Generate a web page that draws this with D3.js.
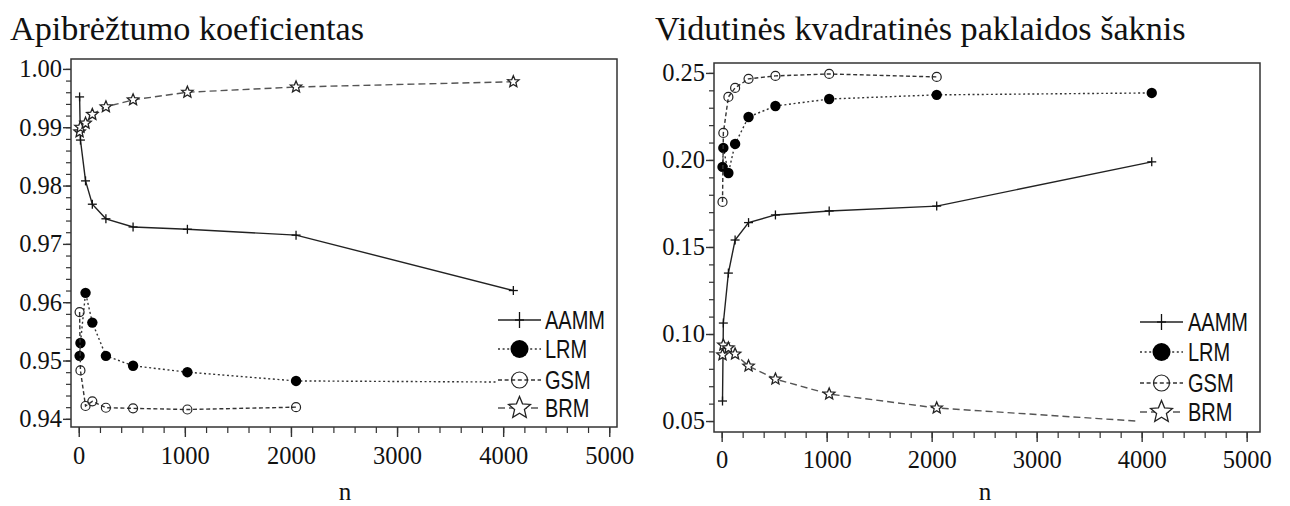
<!DOCTYPE html>
<html>
<head>
<meta charset="utf-8">
<script src="https://cdn.jsdelivr.net/npm/d3@7/dist/d3.min.js"></script>
<style>
  html, body { margin: 0; padding: 0; background: #fff; }
  svg { display: block; }
</style>
</head>
<body>
<div id="chart"></div>
<script>
// 样本量 n
const N = [8, 16, 64, 128, 256, 512, 1024, 2048, 4096];
const SERIES = ['AAMM', 'LRM', 'GSM', 'BRM'];

// 左图：Apibrėžtumo koeficientas
const r2AAMM = [0.9952, 0.9878, 0.9808, 0.9768, 0.9743, 0.9729, 0.9725, 0.9715, 0.9620];
const r2LRM  = [0.9508, 0.9530, 0.9616, 0.9565, 0.9508, 0.9491, 0.9480, 0.9465, 0.9463];
const r2GSM  = [0.9583, 0.9483, 0.9422, 0.9430, 0.9419, 0.9418, 0.9416, 0.9420];
const r2BRM  = [0.9892, 0.9900, 0.9907, 0.9922, 0.9935, 0.9947, 0.9960, 0.9969, 0.9978];

// 右图：Vidutinės kvadratinės paklaidos šaknis
const rmseAAMM = [0.0615, 0.1063, 0.1350, 0.1540, 0.1640, 0.1684, 0.1707, 0.1735, 0.1989];
const rmseLRM  = [0.1960, 0.2069, 0.1925, 0.2092, 0.2247, 0.2310, 0.2350, 0.2374, 0.2385];
const rmseGSM  = [0.1759, 0.2155, 0.2362, 0.2414, 0.2466, 0.2483, 0.2494, 0.2477];
const rmseBRM  = [0.0880, 0.0937, 0.0920, 0.0885, 0.0816, 0.0741, 0.0655, 0.0575, 0.0494];

// 刻度
const X_TICKS = [0, 1000, 2000, 3000, 4000, 5000];
const LEFT_Y_TICKS = [0.94, 0.95, 0.96, 0.97, 0.98, 0.99, 1.00];
const RIGHT_Y_TICKS = [0.05, 0.10, 0.15, 0.20, 0.25];

const W = 1290, H = 506;
const SERIF = '"Liberation Serif", "Times New Roman", serif';
const SANS = '"Liberation Sans", Arial, sans-serif';

// 线型
const STYLE = {
  AAMM: { dash: null,    color: '#222', marker: 'plus' },
  LRM:  { dash: '2,2.6', color: '#333', marker: 'dot' },
  GSM:  { dash: '4,2.6', color: '#333', marker: 'ring' },
  BRM:  { dash: '7,4',   color: '#555', marker: 'star' }
};

const Chart = {
  svg: null,

  init() {
    this.svg = d3.select('#chart').append('svg')
      .attr('width', W).attr('height', H)
      .attr('viewBox', `0 0 ${W} ${H}`);

    this.drawPanel({
      title: 'Apibrėžtumo koeficientas', titleX: 10,
      frame: { x0: 71, x1: 617, y0: 59, y1: 427 },
      xDomain: [-73, 5073], yDomain: [0.9386, 1.0017],
      yTicks: LEFT_Y_TICKS, yMinor: d3.range(469, 501).map(i => i * 0.002),
      yFormat: d3.format('.2f'), xPad: 10,
      data: { AAMM: r2AAMM, LRM: r2LRM, GSM: r2GSM, BRM: r2BRM },
      legend: { x: 496, y: 303, w: 119, h: 122, rows: [320, 349, 380, 408], sx: 498, ex: 541, lx: 545 },
      nX: 345
    });

    this.drawPanel({
      title: 'Vidutinės kvadratinės paklaidos šaknis', titleX: 655,
      frame: { x0: 714, x1: 1260, y0: 63, y1: 432 },
      xDomain: [-73, 5127], yDomain: [0.0437, 0.2557],
      yTicks: RIGHT_Y_TICKS, yMinor: d3.range(5, 26).map(i => i * 0.01),
      yFormat: d3.format('.2f'), xPad: 9,
      data: { AAMM: rmseAAMM, LRM: rmseLRM, GSM: rmseGSM, BRM: rmseBRM },
      legend: { x: 1136, y: 305, w: 122, h: 125, rows: [322, 352, 383, 412], sx: 1140, ex: 1183, lx: 1188 },
      nX: 985
    });
  },

  // 画一个子图
  drawPanel(cfg) {
    const f = cfg.frame;
    const g = this.svg.append('g');
    const x = d3.scaleLinear().domain(cfg.xDomain).range([f.x0, f.x1]);
    const y = d3.scaleLinear().domain(cfg.yDomain).range([f.y1, f.y0]);

    // 标题
    g.append('text')
      .attr('x', cfg.titleX).attr('y', 40)
      .attr('font-family', SERIF).attr('font-size', 34.2)
      .attr('fill', '#111')
      .text(cfg.title);

    // Y 次刻度
    g.append('g')
      .attr('transform', `translate(${f.x0},0)`)
      .call(d3.axisLeft(y).tickValues(cfg.yMinor.filter(v => v >= cfg.yDomain[0] && v <= cfg.yDomain[1]))
        .tickSize(5).tickFormat(''))
      .call(a => a.select('.domain').remove())
      .call(a => a.selectAll('line').attr('stroke', '#333').attr('stroke-width', 1.2));

    // Y 主刻度
    g.append('g')
      .attr('transform', `translate(${f.x0},0)`)
      .call(d3.axisLeft(y).tickValues(cfg.yTicks).tickSize(8).tickPadding(1).tickFormat(cfg.yFormat))
      .call(a => a.select('.domain').remove())
      .call(a => a.selectAll('line').attr('stroke', '#333').attr('stroke-width', 1.4))
      .call(a => a.selectAll('text').attr('font-family', SERIF).attr('font-size', 24.5).attr('fill', '#111'));

    // X 次刻度
    g.append('g')
      .attr('transform', `translate(0,${f.y1})`)
      .call(d3.axisBottom(x).tickValues(d3.range(0, 26).map(i => i * 200)).tickSize(6).tickFormat(''))
      .call(a => a.select('.domain').remove())
      .call(a => a.selectAll('line').attr('stroke', '#333').attr('stroke-width', 1.2));

    // X 主刻度
    g.append('g')
      .attr('transform', `translate(0,${f.y1})`)
      .call(d3.axisBottom(x).tickValues(X_TICKS).tickSize(10).tickPadding(cfg.xPad).tickFormat(d3.format('d')))
      .call(a => a.select('.domain').remove())
      .call(a => a.selectAll('line').attr('stroke', '#333').attr('stroke-width', 1.4))
      .call(a => a.selectAll('text').attr('font-family', SERIF).attr('font-size', 24.5).attr('fill', '#111'));

    // 轴标题 n
    g.append('text')
      .attr('x', cfg.nX).attr('y', 500)
      .attr('text-anchor', 'middle')
      .attr('font-family', SERIF).attr('font-size', 25).attr('fill', '#111')
      .text('n');

    // 数据线与标记
    const line = d3.line().x(d => x(d.n)).y(d => y(d.v));
    SERIES.forEach(name => {
      const st = STYLE[name];
      const pts = cfg.data[name].map((v, i) => ({ n: N[i], v }));
      g.append('path')
        .datum(pts)
        .attr('d', line)
        .attr('fill', 'none')
        .attr('stroke', st.color)
        .attr('stroke-width', 1.4)
        .attr('stroke-dasharray', st.dash);
      pts.forEach(p => this.drawMarker(g, st.marker, x(p.n), y(p.v), false));
    });

    // 图例（白底盖住后面的线）
    const L = cfg.legend;
    g.append('rect')
      .attr('x', L.x).attr('y', L.y).attr('width', L.w).attr('height', L.h)
      .attr('fill', '#fff');
    SERIES.forEach((name, i) => {
      const st = STYLE[name];
      const ry = L.rows[i];
      g.append('line')
        .attr('x1', L.sx).attr('x2', L.ex).attr('y1', ry).attr('y2', ry)
        .attr('stroke', st.color).attr('stroke-width', 1.4)
        .attr('stroke-dasharray', st.dash);
      this.drawMarker(g, st.marker, (L.sx + L.ex) / 2, ry, true);
      g.append('text')
        .attr('transform', `translate(${L.lx},${ry + 9}) scale(1,1.25)`)
        .attr('font-family', SANS).attr('font-size', 20).attr('fill', '#111')
        .text(name);
    });

    // 外框
    g.append('rect')
      .attr('x', f.x0).attr('y', f.y0)
      .attr('width', f.x1 - f.x0).attr('height', f.y1 - f.y0)
      .attr('fill', 'none').attr('stroke', '#333').attr('stroke-width', 1.5);
  },

  // 星形路径
  starPath(R) {
    const r = R * 0.45;
    const pts = d3.range(10).map(k => {
      const a = -Math.PI / 2 + k * Math.PI / 5;
      const rr = k % 2 === 0 ? R : r;
      return [rr * Math.cos(a), rr * Math.sin(a)];
    });
    return 'M' + pts.map(p => p.join(',')).join('L') + 'Z';
  },

  // 画标记
  drawMarker(g, type, cx, cy, big) {
    const m = g.append('g').attr('transform', `translate(${cx},${cy})`);
    if (type === 'plus') {
      const h = big ? 8 : 4.5;
      m.append('line').attr('x1', -4.5).attr('x2', 4.5).attr('y1', 0).attr('y2', 0)
        .attr('stroke', '#111').attr('stroke-width', 1.3);
      m.append('line').attr('x1', 0).attr('x2', 0).attr('y1', -h).attr('y2', h)
        .attr('stroke', '#111').attr('stroke-width', 1.3);
    } else if (type === 'dot') {
      m.append('circle').attr('r', big ? 9 : 5.2).attr('fill', '#000');
    } else if (type === 'ring') {
      m.append('circle').attr('r', big ? 8 : 4.5)
        .attr('fill', 'none').attr('stroke', '#222').attr('stroke-width', 1.2);
    } else if (type === 'star') {
      m.append('path').attr('d', this.starPath(big ? 11.5 : 6))
        .attr('fill', '#fff').attr('stroke', '#222').attr('stroke-width', 1.3);
    }
  }
};

Chart.init();
</script>
</body>
</html>
